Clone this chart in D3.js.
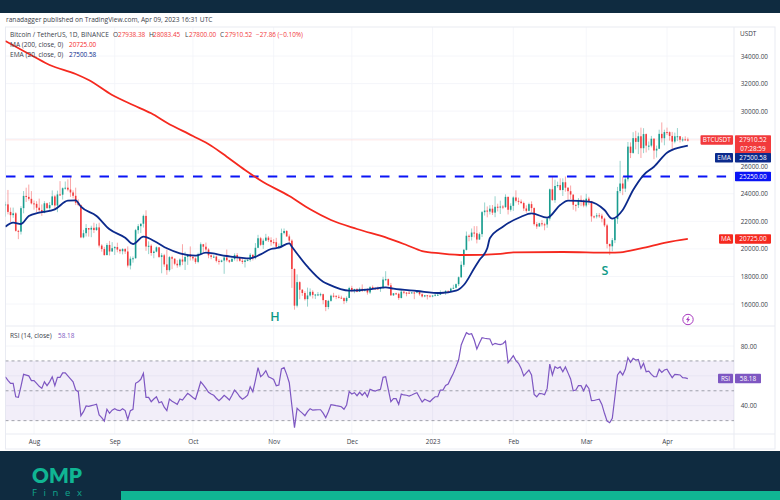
<!DOCTYPE html>
<html><head><meta charset="utf-8">
<script src="https://cdn.jsdelivr.net/npm/d3@7/dist/d3.min.js"></script>
<style>html,body{margin:0;padding:0;background:#fff}svg{display:block}text{font-family:"Open Sans",sans-serif}</style>
</head><body><svg id="c" width="780" height="500"></svg>
<script>
const startDay = "2022-07-21";
const firstOpen = 23152;
const closes = [23231,22684,22451,22579,21310,21254,22957,23845,23774,23634,23303,
23268,22988,22818,22622,23312,22954,23175,23810,23149,23954,23934,24403,24441,24305,24094,23854,23342,23191,20834,21140,21515,21399,21529,21368,21560,20241,19987,19546,20285,19811,20050,
20131,19951,19832,19986,19812,18790,19290,19320,21361,21648,21826,22395,20173,20226,19701,19803,20113,19416,19537,18874,18461,19401,19289,18921,18807,19227,19079,19412,19591,19422,
19310,19056,19623,20336,20160,19955,19531,19417,19439,19131,19060,19155,19375,19176,19068,19268,19550,19334,19139,19053,19162,19204,19570,19330,20080,20771,20295,20595,20818,20635,20495,
20485,20159,20209,21148,21300,20905,20600,18541,15880,17586,17034,16799,16353,16618,16884,16663,16687,16697,16711,16280,15781,16226,16603,16598,16522,16458,16428,16212,16442,17163,
16978,17092,16885,17105,16967,17089,16836,17224,17128,17127,17085,17209,17774,17803,17356,16632,16776,16738,16439,16895,16824,16821,16778,16837,16830,16919,16706,16547,16633,16607,16542,
16616,16672,16675,16850,16831,16950,16943,17120,17179,17440,17943,18846,19930,20954,20871,21185,21133,20677,21071,22667,22783,22707,22917,22632,23060,23009,23074,23031,23774,22840,23125,
23732,23488,23431,23326,22932,22762,23249,22963,21796,21625,21862,21783,21773,22199,24324,23538,24566,24631,24272,24838,24439,24188,23947,23198,23175,23561,23522,23147,
23646,23475,22362,22354,22436,22409,22195,21705,20363,20187,20633,22163,24197,24746,24375,25055,27423,26965,28038,27767,28175,27307,28333,27493,27494,27994,27139,27268,28348,28033,28478,
28473,28199,27790,28171,28175,27920,27947,27938,27910.52];
const highs = [23427,24277,22998,22998,22660,21382,23100,24200,24442,24668,24194,
23509,23463,23648,23225,23465,23350,23400,24245,23924,24226,24918,24460,24889,25047,25211,24247,24446,23602,23205,21382,21800,21420,21680,21900,21820,21900,20340,20150,20420,20580,20490,
20200,20450,20000,20050,20050,20180,19450,19450,21450,21800,21840,22490,22800,20550,20330,19900,20180,20110,19690,19640,19950,19480,19500,19310,19180,19310,20340,19790,19640,20180,
19470,19390,19720,20470,20360,20460,20050,19620,19560,19530,19270,19220,19500,19950,19210,19420,19680,19700,19360,19350,19250,19260,19690,19600,20420,21020,20870,20750,21090,20930,20840,
20700,20800,20390,21470,21480,21360,21050,20700,18590,18150,17650,17080,16930,17190,17130,17000,16730,16870,16820,16750,16290,16300,16680,16810,16610,16670,16600,16480,16550,17250,
17320,17100,17150,17200,17420,17110,17140,17300,17350,17220,17270,17240,17970,18380,17850,17530,16800,16820,16820,17060,16920,16870,16950,16870,16860,16940,16930,16780,16650,16640,16630,
16630,16760,16770,16990,16880,17000,16980,17180,17400,17490,18000,19100,20000,21260,21050,21480,21650,21650,21190,22750,23370,23080,23170,23180,23820,23280,23500,23190,23960,23800,23310,
23810,24250,23720,23590,23430,23160,23350,23450,23010,21950,21900,22090,21900,22330,24380,25250,25020,24880,25120,25120,25250,24480,24600,23880,23220,23690,23880,23600,
24000,23780,23480,22420,22600,22600,22550,22270,21820,20370,20790,22260,24500,26390,25250,25200,27760,27730,28470,28570,28440,28800,28760,28380,27800,28200,28040,27500,28650,29180,28650,
28800,28530,28490,28440,28770,28190,28100,28170,28083.45];
const lows = [22341,22506,21950,22257,21250,20706,21043,22582,23403,23502,23227,
22850,22655,22681,22400,22587,22921,22838,23155,22865,22664,23850,23580,24296,24178,23773,23671,23180,23105,20777,20769,20900,20890,20850,21150,21310,20100,19800,19520,19550,19520,19800,
19560,19750,19650,19600,19630,18650,18510,19000,19300,21100,21150,21550,19860,19620,19500,19320,19750,19340,18230,18700,18120,18350,18530,18810,18630,18680,18820,18470,18840,19160,
19150,18920,18960,19590,19740,19850,19320,19250,19340,19020,18860,19020,18190,19070,18970,19060,19150,19090,19070,18900,18650,19100,19070,19160,19240,20050,20200,20000,20550,20500,20220,
20330,20050,20030,20170,21050,20880,20400,17170,15590,15750,16350,16590,16250,15810,16530,16400,16360,16570,16550,15980,15480,15620,16160,16460,16350,16400,16400,15990,16090,16430,
16850,16780,16860,16880,16870,16900,16680,16730,17050,17090,17070,16880,17090,17660,17280,16580,16580,16660,16300,16400,16710,16560,16750,16790,16350,16780,16600,16470,16490,16330,16470,
16490,16550,16620,16650,16750,16660,16910,16910,17100,17140,17300,17900,18700,19880,20550,20610,20840,20400,20660,20860,22420,22290,22500,22460,22300,22720,22530,22880,22980,22500,22710,
22760,23370,23200,23250,22750,22630,22740,22680,21690,21450,21610,21630,21350,21530,22050,23500,23340,24440,24240,23840,24150,23580,23610,22840,22720,22970,23100,23020,
23020,23200,21970,22210,22210,22250,21930,21580,20040,19550,19830,20420,21820,24050,23900,24120,24890,26590,26900,27220,26880,26600,26950,27000,27160,27370,26510,26630,27240,27720,27520,
28260,27860,27200,27660,27820,27720,27780,27880,27800];
const emaDays = [0,3,6,9,13,19,24,27,29,35,40,46,49,53,58,62,67,73,77,85,94,98,102,105,109,110,116,122,124,132,140,146,149,158,167,173,176,180,182,185,186,191,198,202,208,213,216,224,230,233,237,241,245,249,254,259,262];
const emaVals = [21610,21900,21805,22386,22626,22872,23496,23525,23061,22386,21421,20811,20354,20884,20478,20042,19679,19505,19723,19483,19316,19607,19991,20086,20405,20158,18707,17618,17430,16965,17067,17212,17110,16943,16798,16965,17379,18591,19193,20042,20768,21610,22335,22582,22263,23184,23496,23424,22821,22190,22821,24273,25361,25964,26980,27372,27500.58];
const maDays = [0,11,17,27,32,41,49,56,62,72,79,85,92,98,109,117,125,135,147,154,160,167,176,190,195,214,232,236,244,254,262];
const maVals = [35086,33946,33344,32691,32255,31167,30441,29839,29157,28191,27488,26689,25724,24962,23837,22872,22096,21443,20768,20282,19846,19679,19556,19643,19752,19774,19723,19752,20042,20478,20725];
const rsi = [59.4,57,55,55,46,45.6,53,61,60.5,60,
56.8,56.8,55,53,51.6,56,53.4,56,59.4,53.4,
59,59,62,62,60,58,56,50.5,49.4,33.3,
36,39.8,39.5,40,40.5,41,33.8,32,29.7,37.6,
34.9,37,38,37,36.7,38,36.7,30.8,36.7,37.6,
55,56,57.7,61.7,45.6,45.6,42.7,44.5,46,42,
42.7,39,36.7,44.5,43,42,40.9,44.5,43.8,46,
48.3,47,45.5,44.3,50,56,54,51.6,49,47.8,
47,45,43.4,45,47,45.5,43.8,47,50.5,48.5,
46,44.3,45.5,47,52.7,49.4,57,65.5,59.4,61,
63.5,59.4,58.5,57.6,53.4,53.9,64.6,65.5,61,55.4,
40,25.3,38.2,36.5,35,33.3,36,38,37,37.2,
37.3,37.3,35,32,36,40.7,40.4,40,39.7,39.3,
37.6,40.5,49.4,47.8,48.7,46.7,49,47,49,46,
51,50.3,49.8,50.5,51,59,59.4,51,42.7,44.7,
44.7,40.9,47.8,47.2,47,46.5,47.2,48,48.7,45.5,
42.5,44.3,43.5,42.7,44.5,46,46,50.5,50.5,53.6,
54.5,58.3,61.7,66,70.6,80.7,85,88.9,87.8,88.2,
84,78,82,85.6,85.2,84.9,84.7,80.7,81.8,81.3,
80.9,81.5,83.3,68.8,71,73.5,70.2,68.4,65,60,
62,63.9,60.6,47.6,46,48.3,48,47.4,51.6,67.9,
60.6,66.1,65,66,62.8,66,62,57.9,50,50.5,
53.4,53.4,50,53.9,51.6,43.4,43.5,44,44.3,40.9,
34.9,29.7,28.6,31.5,46,60.6,63,60.6,64.4,72.2,
69,71.7,70.6,71,65,68.4,62.8,63.2,61,59.4,
59.4,64.4,62.3,63.9,64.4,61.5,58.8,61,60.8,60.6,
58.8,58.6,58.18];
const priceGrid = [16000,18000,20000,22000,24000,26000,28000,30000,32000,34000];
const priceLabels = [16000,18000,20000,22000,24000,26000,30000,32000,34000];
const rsiGrid = [40,60,80];
const rsiLabels = [40,80];
const rsiBands = [70,50,30];
const monthTicks = [["2022-08-01","Aug"],["2022-09-01","Sep"],["2022-10-01","Oct"],["2022-11-01","Nov"],["2022-12-01","Dec"],["2023-01-01","2023"],["2023-02-01","Feb"],["2023-03-01","Mar"],["2023-04-01","Apr"]];
const lastPrice = 27910.52, lastEma = 27500.58, lastMa = 20725, resistance = 25250, lastRsi = 58.18;

const NAVY="#0f2b40", GREEN="#10b593", UP="#1a9d8f", DOWN="#f23a3c", LINE_RED="#f5291f", EMA="#0c2a8c", BLUE="#0a14f5", PUR="#7e57c2", GRID="#f3f4f9", BORDER="#e9ebf2", TXT="#3a3e4a";
const L=5.5,R=734,T=27,B=326,RB=434,AX=449,RE=775,FS=6.4;
const parse=d3.utcParse("%Y-%m-%d");
const days=closes.map((_,i)=>d3.utcDay.offset(parse(startDay),i));
const x=d3.scaleUtc().domain([parse("2022-08-01"),parse("2023-04-01")]).range([34,667]);
const y=d3.scaleLinear().domain([16000,34000]).range([304,56]);
const yr=d3.scaleLinear().domain([40,80]).range([405.7,346]);
const svg=d3.select("#c");
svg.append("rect").attr("width",780).attr("height",13).attr("fill",NAVY);
svg.append("text").attr("x",6).attr("y",22).attr("font-size",6.6).attr("fill",TXT).text("ranadagger published on TradingView.com, Apr 09, 2023 16:31 UTC");
const defs=svg.append("defs");
defs.append("clipPath").attr("id","p").append("rect").attr("x",L).attr("y",T).attr("width",R-L).attr("height",B-T);
defs.append("clipPath").attr("id","q").append("rect").attr("x",L).attr("y",B).attr("width",R-L).attr("height",RB-B);
const grid=svg.append("g").attr("stroke",GRID).attr("stroke-width",.8);
grid.selectAll(".v").data(monthTicks).join("line").attr("x1",d=>x(parse(d[0]))).attr("x2",d=>x(parse(d[0]))).attr("y1",T).attr("y2",RB);
grid.selectAll(".h").data(priceGrid).join("line").attr("x1",L).attr("x2",R).attr("y1",d=>y(d)).attr("y2",d=>y(d));
grid.selectAll(".r").data(rsiGrid).join("line").attr("x1",L).attr("x2",R).attr("y1",d=>yr(d)).attr("y2",d=>yr(d));
const fr=svg.append("g").attr("stroke",BORDER).attr("stroke-width",1).attr("fill","none");
fr.append("rect").attr("x",L).attr("y",T).attr("width",RE-L).attr("height",AX-T);
[[L,B,RE,B],[L,RB,RE,RB],[R,T,R,AX]].forEach(a=>fr.append("line").attr("x1",a[0]).attr("y1",a[1]).attr("x2",a[2]).attr("y2",a[3]));
const pane=svg.append("g").attr("clip-path","url(#p)");
pane.append("line").attr("x1",L).attr("x2",R).attr("y1",y(lastPrice)).attr("y2",y(lastPrice)).attr("stroke","#fbd5d5").attr("stroke-width",.6);
const cs=pane.append("g").selectAll("g").data(closes).join("g");
const openOf=i=>i===0?firstOpen:closes[i-1];
const col=(c,i)=>c>=openOf(i)?UP:DOWN;
cs.append("line").attr("x1",(c,i)=>x(days[i])).attr("x2",(c,i)=>x(days[i])).attr("y1",(c,i)=>y(highs[i])).attr("y2",(c,i)=>y(lows[i])).attr("stroke",col).attr("stroke-width",.9).attr("stroke-opacity",.5);
cs.append("rect").attr("x",(c,i)=>x(days[i])-.8).attr("width",1.6).attr("y",(c,i)=>y(Math.max(c,openOf(i)))).attr("height",(c,i)=>Math.max(1,Math.abs(y(c)-y(openOf(i))))).attr("fill",col);
pane.append("line").attr("x1",L).attr("x2",R).attr("y1",y(resistance)).attr("y2",y(resistance)).attr("stroke",BLUE).attr("stroke-width",1.9).attr("stroke-dasharray","9.5 9.2").attr("stroke-dashoffset",-0.5);
const base=parse(startDay);
const lineOf=(ds,vs)=>d3.line().x((d,i)=>x(d3.utcDay.offset(base,ds[i]))).y(d=>y(d)).curve(d3.curveMonotoneX)(vs);
pane.append("path").attr("d",lineOf(maDays,maVals)).attr("fill","none").attr("stroke",LINE_RED).attr("stroke-width",1.8);
pane.append("path").attr("d",lineOf(emaDays,emaVals)).attr("fill","none").attr("stroke",EMA).attr("stroke-width",1.8);
svg.append("text").attr("x",275).attr("y",321).attr("text-anchor","middle").attr("font-size",12.5).attr("font-weight",600).attr("fill","#0d9a86").text("H");
svg.append("text").attr("x",605).attr("y",275).attr("text-anchor","middle").attr("font-size",12.5).attr("font-weight",600).attr("fill","#0d9a86").text("S");
const ic=svg.append("g").attr("transform","translate(688,319.5)");
ic.append("circle").attr("r",5.2).attr("fill","#fff").attr("stroke","#a93bc0").attr("stroke-width",1);
ic.append("path").attr("d","M1,-3.4 L-2,0.5 L-0.3,0.5 L-1,3.4 L2,-0.6 L0.3,-0.6 Z").attr("fill","#a93bc0");
// legend
const lg=svg.append("g");
const put=(px,py,s,fill,fs)=>lg.append("text").attr("x",px).attr("y",py).attr("fill",fill).attr("font-size",fs||6.6).text(s);
put(10,37,"Bitcoin / TetherUS, 1D, BINANCE",TXT);
[[113,"O",118,"27938.38"],[149,"H",153,"28083.45"],[185,"L",189,"27800.00"],[220,"C",225,"27910.52"]].forEach(a=>{put(a[0],37,a[1],TXT);put(a[2],37,a[3],DOWN,FS);});
put(256,37,"−27.86 (−0.10%)",DOWN,FS);
put(10,47,"MA (200, close, 0)",TXT);put(69,47,"20725.00",LINE_RED,FS);
put(10,56.5,"EMA (20, close, 0)",TXT);put(69,56.5,"27500.58",EMA,FS);
put(10,338,"RSI (14, close)",TXT);put(58,338,"58.18",PUR,FS);
const rp=svg.append("g").attr("clip-path","url(#q)");
rp.append("rect").attr("x",L).attr("width",R-L).attr("y",yr(70)).attr("height",yr(30)-yr(70)).attr("fill",PUR).attr("fill-opacity",.1);
rp.selectAll(".b").data(rsiBands).join("line").attr("x1",L).attr("x2",R).attr("y1",d=>yr(d)).attr("y2",d=>yr(d)).attr("stroke","#8a8d98").attr("stroke-width",.8).attr("stroke-dasharray","3 3");
rp.append("path").attr("d",d3.line().x((d,i)=>x(days[i])).y(d=>yr(d))(rsi)).attr("fill","none").attr("stroke",PUR).attr("stroke-width",1.2);
const axP=svg.append("g").attr("transform",`translate(${R},0)`).call(d3.axisRight(y).tickValues(priceLabels).tickSize(0).tickPadding(6.7).tickFormat(d3.format(".2f")));
const axR=svg.append("g").attr("transform",`translate(${R},0)`).call(d3.axisRight(yr).tickValues(rsiLabels).tickSize(0).tickPadding(6.7).tickFormat(d3.format(".2f")));
const axX=svg.append("g").attr("transform",`translate(0,${RB})`).call(d3.axisBottom(x).tickValues(monthTicks.map(d=>parse(d[0]))).tickSize(0).tickPadding(5).tickFormat((d,i)=>monthTicks[i][1]));
[axP,axR,axX].forEach(a=>{a.select(".domain").remove();a.selectAll("text").attr("font-size",FS).attr("fill",TXT).style("font-family",'"Open Sans",sans-serif');});
svg.append("text").attr("x",740).attr("y",36).attr("font-size",FS).attr("fill",TXT).text("USDT");
function tag(x0,w,yc,h,fill,label){
  svg.append("rect").attr("x",x0).attr("y",yc-h/2).attr("width",w).attr("height",h).attr("fill",fill).attr("rx",.8);
  svg.append("text").attr("x",x0+w/2).attr("y",yc+2.3).attr("text-anchor","middle").attr("font-size",FS).attr("fill","#fff").text(label);
}
const tg=d3.format(".2f");
tag(700.5,32.5,y(lastPrice),9.5,DOWN,"BTCUSDT");
svg.append("rect").attr("x",735).attr("y",y(lastPrice)-4.7).attr("width",36).attr("height",19).attr("fill",DOWN).attr("rx",.8);
svg.append("text").attr("x",753).attr("y",y(lastPrice)+2.3).attr("text-anchor","middle").attr("font-size",FS).attr("fill","#fff").text(tg(lastPrice));
svg.append("text").attr("x",753).attr("y",y(lastPrice)+11.3).attr("text-anchor","middle").attr("font-size",FS).attr("fill","#fff").text("07:28:59");
tag(715,18,y(lastEma)+12.3,9.5,EMA,"EMA");
tag(735,36,y(lastEma)+12.3,9.5,EMA,tg(lastEma));
tag(735,36,y(resistance),9.5,BLUE,tg(resistance));
tag(719,14,y(lastMa),9.5,LINE_RED,"MA");
tag(735,36,y(lastMa),9.5,LINE_RED,tg(lastMa));
tag(718,15,yr(lastRsi),9.5,PUR,"RSI");
tag(735,26,yr(lastRsi),9.5,PUR,tg(lastRsi));
svg.append("rect").attr("y",451).attr("width",780).attr("height",49).attr("fill",NAVY);
svg.append("rect").attr("x",121).attr("y",491).attr("width",659).attr("height",9).attr("fill",GREEN);
svg.append("text").attr("x",32).attr("y",483).attr("font-size",21).attr("font-weight",800).attr("fill",GREEN).attr("textLength",50).attr("lengthAdjust","spacingAndGlyphs").style("font-family","Lato").text("OMP");
svg.append("text").attr("x",32).attr("y",495.5).attr("font-size",9.5).attr("fill","#0fa58c").attr("textLength",50).text("Finex");
</script></body></html>
